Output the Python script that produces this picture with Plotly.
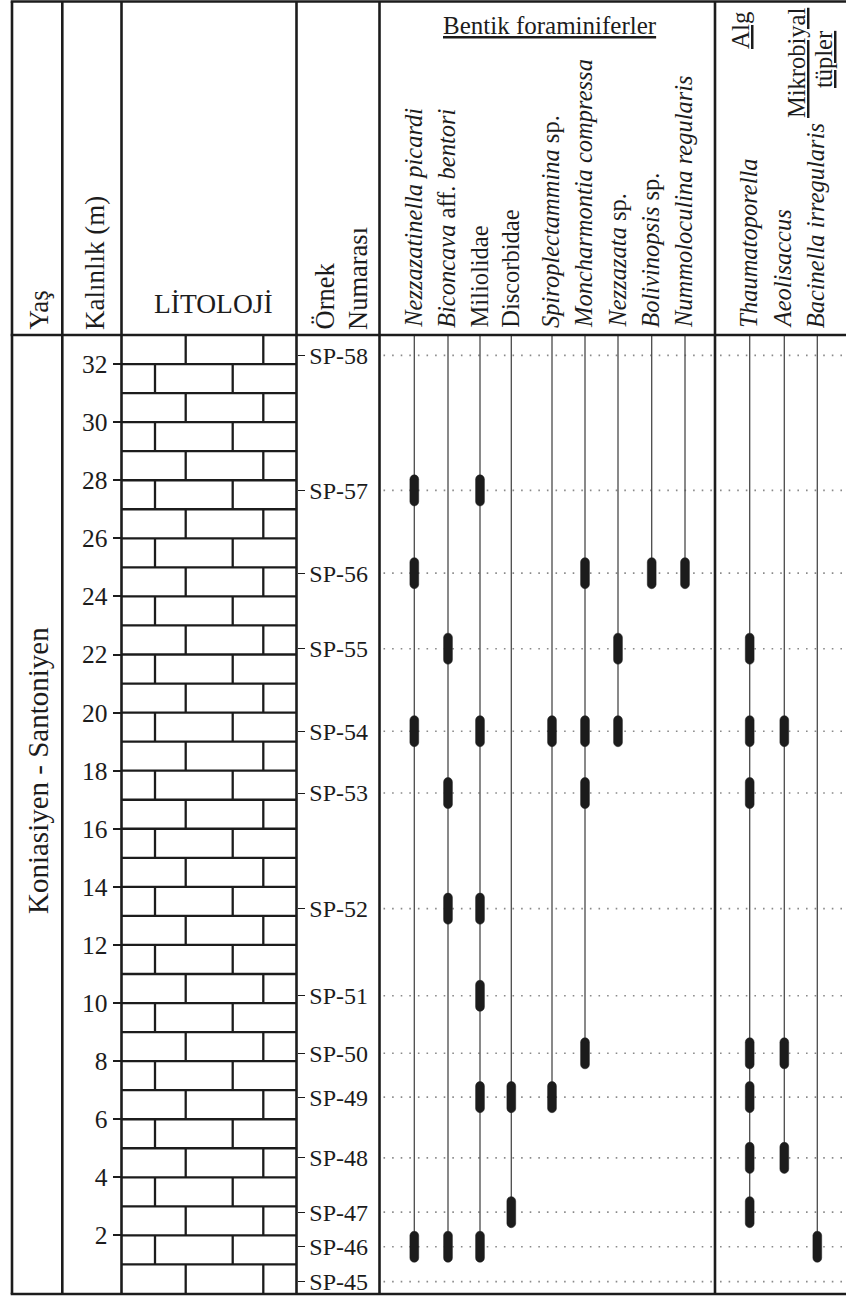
import plotly.graph_objects as go

# ---------------- DATA ----------------
samples = ["SP-45", "SP-46", "SP-47", "SP-48", "SP-49", "SP-50", "SP-51",
           "SP-52", "SP-53", "SP-54", "SP-55", "SP-56", "SP-57", "SP-58"]
sample_depth_m = [0.41, 1.61, 2.8, 4.67, 6.76, 8.27, 10.25,
                  13.25, 17.23, 19.36, 22.2, 24.8, 27.65, 32.3]

thickness_ticks = [0, 2, 4, 6, 8, 10, 12, 14, 16, 18, 20, 22, 24, 26, 28, 30, 32]
section_top_m = 33

species_labels = [
    "<i>Nezzazatinella picardi</i>",
    "<i>Biconcava</i> aff. <i>bentori</i>",
    "Miliolidae",
    "Discorbidae",
    "<i>Spiroplectammina</i> sp.",
    "<i>Moncharmontia compressa</i>",
    "<i>Nezzazata</i> sp.",
    "<i>Bolivinopsis</i> sp.",
    "<i>Nummoloculina regularis</i>",
    "<i>Thaumatoporella</i>",
    "<i>Aeolisaccus</i>",
    "<i>Bacinella irregularis</i>",
]

occ_nezzazatinella = ["SP-57", "SP-56", "SP-54", "SP-46"]
occ_biconcava = ["SP-55", "SP-53", "SP-52", "SP-46"]
occ_miliolidae = ["SP-57", "SP-54", "SP-52", "SP-51", "SP-49", "SP-46"]
occ_discorbidae = ["SP-49", "SP-47"]
occ_spiroplectammina = ["SP-54", "SP-49"]
occ_moncharmontia = ["SP-56", "SP-54", "SP-53", "SP-50"]
occ_nezzazata = ["SP-55", "SP-54"]
occ_bolivinopsis = ["SP-56"]
occ_nummoloculina = ["SP-56"]
occ_thaumatoporella = ["SP-55", "SP-54", "SP-53", "SP-50", "SP-49", "SP-48", "SP-47"]
occ_aeolisaccus = ["SP-54", "SP-50", "SP-48"]
occ_bacinella = ["SP-46"]

occurrences = [occ_nezzazatinella, occ_biconcava, occ_miliolidae, occ_discorbidae,
               occ_spiroplectammina, occ_moncharmontia, occ_nezzazata,
               occ_bolivinopsis, occ_nummoloculina, occ_thaumatoporella,
               occ_aeolisaccus, occ_bacinella]

age_label = "Koniasiyen - Santoniyen"

# ---------------- LAYOUT CONSTANTS ----------------
W, H = 846, 1296
TOP_PX, BOT_PX = 335.0, 1293.5        # data area in pixels
PXM = (BOT_PX - TOP_PX) / section_top_m
FONT = "Liberation Serif, Times New Roman, serif"
INK = "#1c1c1c"

X_LEFT = 12.0
X_YAS = 62.3
X_KAL = 121.5
X_ORN = 296.5
X_BEN = 379.5
X_ALG = 715.0
X_RIGHT = 846.0

COL_X = [414.3, 448.0, 480.0, 511.3, 552.0, 585.0, 618.0, 651.7, 685.0,
         749.7, 784.3, 817.3]
LITH_V_EVEN = [185.7, 263.3]
LITH_V_ODD = [155.0, 232.7]


def pp(py):
    return 1 - py / H


depth_of = dict(zip(samples, sample_depth_m))

fig = go.Figure()
shapes = []
annotations = []

# dotted sample lines
for d in sample_depth_m:
    for x0, x1 in [(X_BEN + 4, X_ALG - 3), (X_ALG + 5, X_RIGHT)]:
        shapes.append(dict(type="line", xref="x", yref="y", x0=x0, x1=x1, y0=d, y1=d,
                           line=dict(color="#8a8a8a", width=1.6, dash="1.6px,7px"),
                           layer="below"))

# species range lines (from lowest occurrence up to the top of the section)
for cx, occ in zip(COL_X, occurrences):
    lo = min(depth_of[s] for s in occ)
    fig.add_trace(go.Scatter(x=[cx, cx], y=[lo, section_top_m], mode="lines",
                             line=dict(color="#4a4a4a", width=1.3),
                             hoverinfo="skip", showlegend=False))

# occurrence capsules
BW = 8.8
HH = 0.535
RY = (BW / 2) / PXM
K = 0.5523
for cx, occ in zip(COL_X, occurrences):
    for s in occ:
        yc = depth_of[s]
        xl, xr = cx - BW / 2, cx + BW / 2
        yt, yb = yc + HH, yc - HH
        p = (f"M {xl},{yb + RY} L {xl},{yt - RY} "
             f"C {xl},{yt - RY + K * RY} {cx - K * BW / 2},{yt} {cx},{yt} "
             f"C {cx + K * BW / 2},{yt} {xr},{yt - RY + K * RY} {xr},{yt - RY} "
             f"L {xr},{yb + RY} "
             f"C {xr},{yb + RY - K * RY} {cx + K * BW / 2},{yb} {cx},{yb} "
             f"C {cx - K * BW / 2},{yb} {xl},{yb + RY - K * RY} {xl},{yb + RY} Z")
        shapes.append(dict(type="path", xref="x", yref="y", path=p,
                           fillcolor=INK, line=dict(color=INK, width=0.5), layer="above"))

# limestone brick pattern
for k in range(1, section_top_m):
    shapes.append(dict(type="line", xref="x", yref="y", x0=X_KAL, x1=X_ORN, y0=k, y1=k,
                       line=dict(color=INK, width=2.3), layer="above"))
for k in range(0, section_top_m):
    xs = LITH_V_EVEN if k % 2 == 0 else LITH_V_ODD
    for xv in xs:
        shapes.append(dict(type="line", xref="x", yref="y", x0=xv, x1=xv, y0=k, y1=k + 1,
                           line=dict(color=INK, width=2.3), layer="above"))

# frame
TOP_LINE = 1.5
for xv in [X_LEFT, X_YAS, X_KAL, X_ORN, X_BEN, X_ALG]:
    shapes.append(dict(type="line", xref="x", yref="paper", x0=xv, x1=xv,
                       y0=pp(TOP_LINE), y1=pp(BOT_PX + 0.5),
                       line=dict(color=INK, width=2.6), layer="above"))
for yv in [TOP_LINE, TOP_PX, BOT_PX + 0.5]:
    shapes.append(dict(type="line", xref="x", yref="paper", x0=X_LEFT - 1.3, x1=X_RIGHT,
                       y0=pp(yv), y1=pp(yv),
                       line=dict(color=INK, width=2.6), layer="above"))

# header texts
def ann(text, x, ypx, size, angle=0, xanchor="center", yanchor="middle", align="center"):
    annotations.append(dict(text=text, x=x, y=pp(ypx), xref="x", yref="paper",
                            showarrow=False, textangle=angle, xanchor=xanchor,
                            yanchor=yanchor, align=align,
                            font=dict(family=FONT, size=size, color=INK)))

ann("Yaş", 38, 332, 27, angle=-90, yanchor="bottom")
ann("Kalınlık (m)", 95, 332, 27, angle=-90, yanchor="bottom")
ann("LİTOLOJİ", 213, 304, 27.5)
ann("Örnek", 324, 332, 26.5, angle=-90, yanchor="bottom")
ann("Numarası", 357.5, 332, 26.5, angle=-90, yanchor="bottom")
ann("<u>Bentik foraminiferler</u>", 549.5, 25, 25)
ann("<u>Alg</u>", 741, 30, 25, angle=-90)
ann("<u>Mikrobiyal</u>", 796, 63, 24.5, angle=-90)
ann("<u>tüpler</u>", 824, 60, 24.5, angle=-90)
for cx, lab in zip(COL_X, species_labels):
    ann(lab, cx - 1.5, 330, 24.5, angle=-90, yanchor="bottom")

ann(age_label, 38, 771, 29, angle=-90)

fig.update_layout(
    width=W, height=H,
    margin=dict(l=0, r=0, t=0, b=0),
    paper_bgcolor="white", plot_bgcolor="rgba(0,0,0,0)",
    showlegend=False,
    xaxis=dict(range=[0, W], domain=[0, 1], visible=False, fixedrange=True),
    yaxis=dict(range=[0, section_top_m], domain=[pp(BOT_PX), pp(TOP_PX)],
               anchor="free", position=X_KAL / W, side="left",
               tickmode="array", tickvals=thickness_ticks,
               ticktext=[str(t) for t in thickness_ticks],
               ticks="outside", ticklen=9, tickwidth=2.2, tickcolor=INK,
               showgrid=False, zeroline=False, showline=False,
               tickfont=dict(family=FONT, size=25.5, color=INK), fixedrange=True),
    yaxis2=dict(range=[0, section_top_m], domain=[pp(BOT_PX), pp(TOP_PX)],
                overlaying="y", matches="y",
                anchor="free", position=X_ORN / W, side="right",
                tickmode="array", tickvals=sample_depth_m, ticktext=samples,
                ticks="outside", ticklen=7, tickwidth=1.3, tickcolor=INK,
                showgrid=False, zeroline=False, showline=False,
                tickfont=dict(family=FONT, size=24, color=INK), fixedrange=True),
    shapes=shapes,
    annotations=annotations,
)

# invisible trace bound to the sample axis so that it renders
fig.add_trace(go.Scatter(x=[None], y=[None], yaxis="y2", showlegend=False, hoverinfo="skip"))

fig.write_html(
    "out.html",
    config={"displayModeBar": False},
    post_script="document.body.style.margin='0';document.body.style.overflow='hidden';",
)
